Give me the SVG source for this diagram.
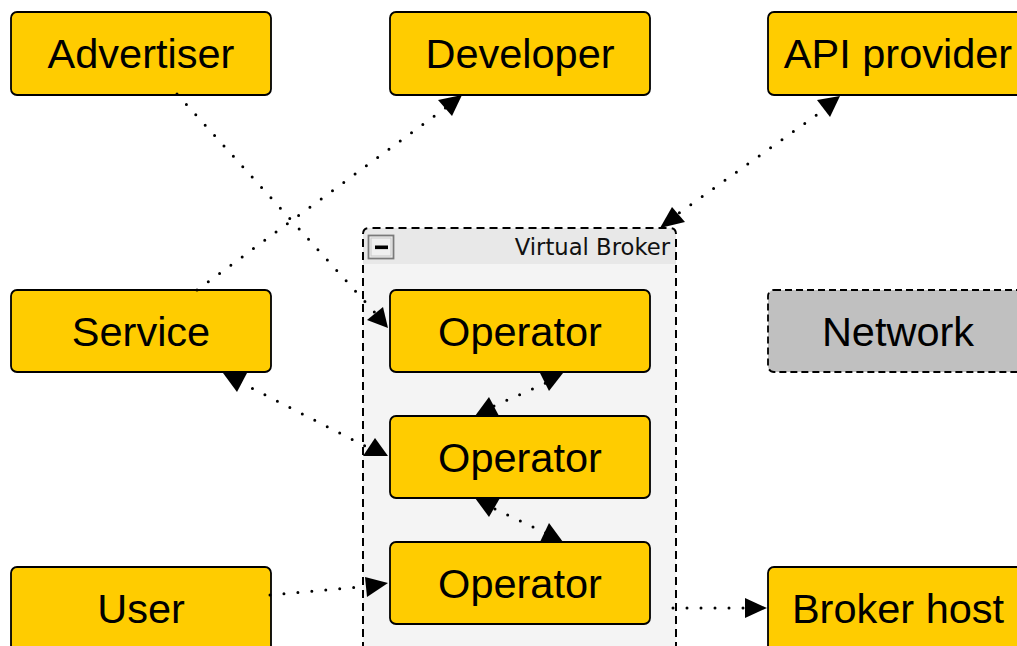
<svg xmlns="http://www.w3.org/2000/svg" width="1017" height="646" viewBox="0 0 1017 646">
  <style>
    .node { fill: #ffcc00; stroke: #000; stroke-width: 1.8; }
    .net { fill: #c0c0c0; stroke: #000; stroke-width: 1.8; stroke-dasharray: 7 4; }
    .label { font-family: "Liberation Sans", Arial, sans-serif; font-size: 41.5px; fill: #000; text-anchor: middle; }
    .glabel { font-family: "DejaVu Sans", Verdana, sans-serif; font-size: 22.7px; fill: #111; text-anchor: end; }
    .edge { fill: none; stroke: #000; stroke-width: 3; stroke-linecap: round; stroke-dasharray: 0 14; }
    .head { fill: #000; stroke: none; }
  </style>

  <rect width="1017" height="646" fill="#ffffff"/>

  <!-- Virtual Broker group -->
  <g id="virtual-broker">
    <path d="M363,646 L363,234 Q363,228 369,228 L670,228 Q676,228 676,234 L676,646 Z" fill="#f4f4f4"/>
    <path d="M363,264 L363,234 Q363,228 369,228 L670,228 Q676,228 676,234 L676,264 Z" fill="#e8e8e8"/>
    <path d="M363,650 L363,234 Q363,228 369,228 L670,228 Q676,228 676,234 L676,650" fill="none" stroke="#000" stroke-width="2" stroke-dasharray="8 5"/>
    <rect x="368.5" y="235.5" width="25" height="23" fill="#f0f0f0" stroke="#7a7a7a" stroke-width="1.8"/>
    <rect x="371" y="238" width="20" height="18" fill="none" stroke="#c8c8c8" stroke-width="1"/>
    <rect x="375" y="245.5" width="13" height="3.6" fill="#000"/>
    <text class="glabel" x="670" y="255">Virtual Broker</text>
  </g>

  <!-- Nodes -->
  <g id="advertiser">
    <rect class="node" x="11" y="12" width="260" height="83" rx="6"/>
    <text class="label" x="141" y="68">Advertiser</text>
  </g>
  <g id="developer">
    <rect class="node" x="390" y="12" width="260" height="83" rx="6"/>
    <text class="label" x="520" y="68">Developer</text>
  </g>
  <g id="api-provider">
    <rect class="node" x="768" y="12" width="260" height="83" rx="6"/>
    <text class="label" x="898" y="68">API provider</text>
  </g>
  <g id="service">
    <rect class="node" x="11" y="290" width="260" height="82" rx="6"/>
    <text class="label" x="141" y="346">Service</text>
  </g>
  <g id="operator-1">
    <rect class="node" x="390" y="290" width="260" height="82" rx="6"/>
    <text class="label" x="520" y="346">Operator</text>
  </g>
  <g id="network">
    <rect class="net" x="768" y="290" width="260" height="82" rx="6"/>
    <text class="label" x="898" y="346">Network</text>
  </g>
  <g id="operator-2">
    <rect class="node" x="390" y="416" width="260" height="82" rx="6"/>
    <text class="label" x="520" y="472">Operator</text>
  </g>
  <g id="operator-3">
    <rect class="node" x="390" y="542" width="260" height="82" rx="6"/>
    <text class="label" x="520" y="598">Operator</text>
  </g>
  <g id="user">
    <rect class="node" x="11" y="567" width="260" height="90" rx="6"/>
    <text class="label" x="141" y="623">User</text>
  </g>
  <g id="broker-host">
    <rect class="node" x="768" y="567" width="260" height="90" rx="6"/>
    <text class="label" x="898" y="623">Broker host</text>
  </g>

  <!-- Connectors -->
  <g id="connectors">
    <path class="edge" d="M177,94 L378,316"/>
    <polygon class="head" points="367,320 383,307 388,328"/>

    <path class="edge" d="M197,290 L448,106"/>
    <polygon class="head" points="438,100 462,95 452,116"/>

    <path class="edge" d="M668,221 L832,104"/>
    <polygon class="head" points="817,100 840,96 830,117"/>
    <polygon class="head" points="672,207 685,222 660,228"/>

    <path class="edge" d="M494,406 L546,383"/>
    <polygon class="head" points="540,373 563,373 549,391"/>
    <polygon class="head" points="475,416 499,416 489,397"/>

    <path class="edge" d="M495,509 L546,533"/>
    <polygon class="head" points="475,498 500,498 489,517"/>
    <polygon class="head" points="540,542 563,542 549,523"/>

    <path class="edge" d="M240,382 L365,446"/>
    <polygon class="head" points="223,373 247,373 237,392"/>
    <polygon class="head" points="363,456 375,438 388,456"/>

    <path class="edge" d="M270,595 L370,586"/>
    <polygon class="head" points="365,577 367,597 388,583"/>

    <path class="edge" d="M673,608 L750,608"/>
    <polygon class="head" points="745,598 745,618 767,608"/>
  </g>
</svg>
